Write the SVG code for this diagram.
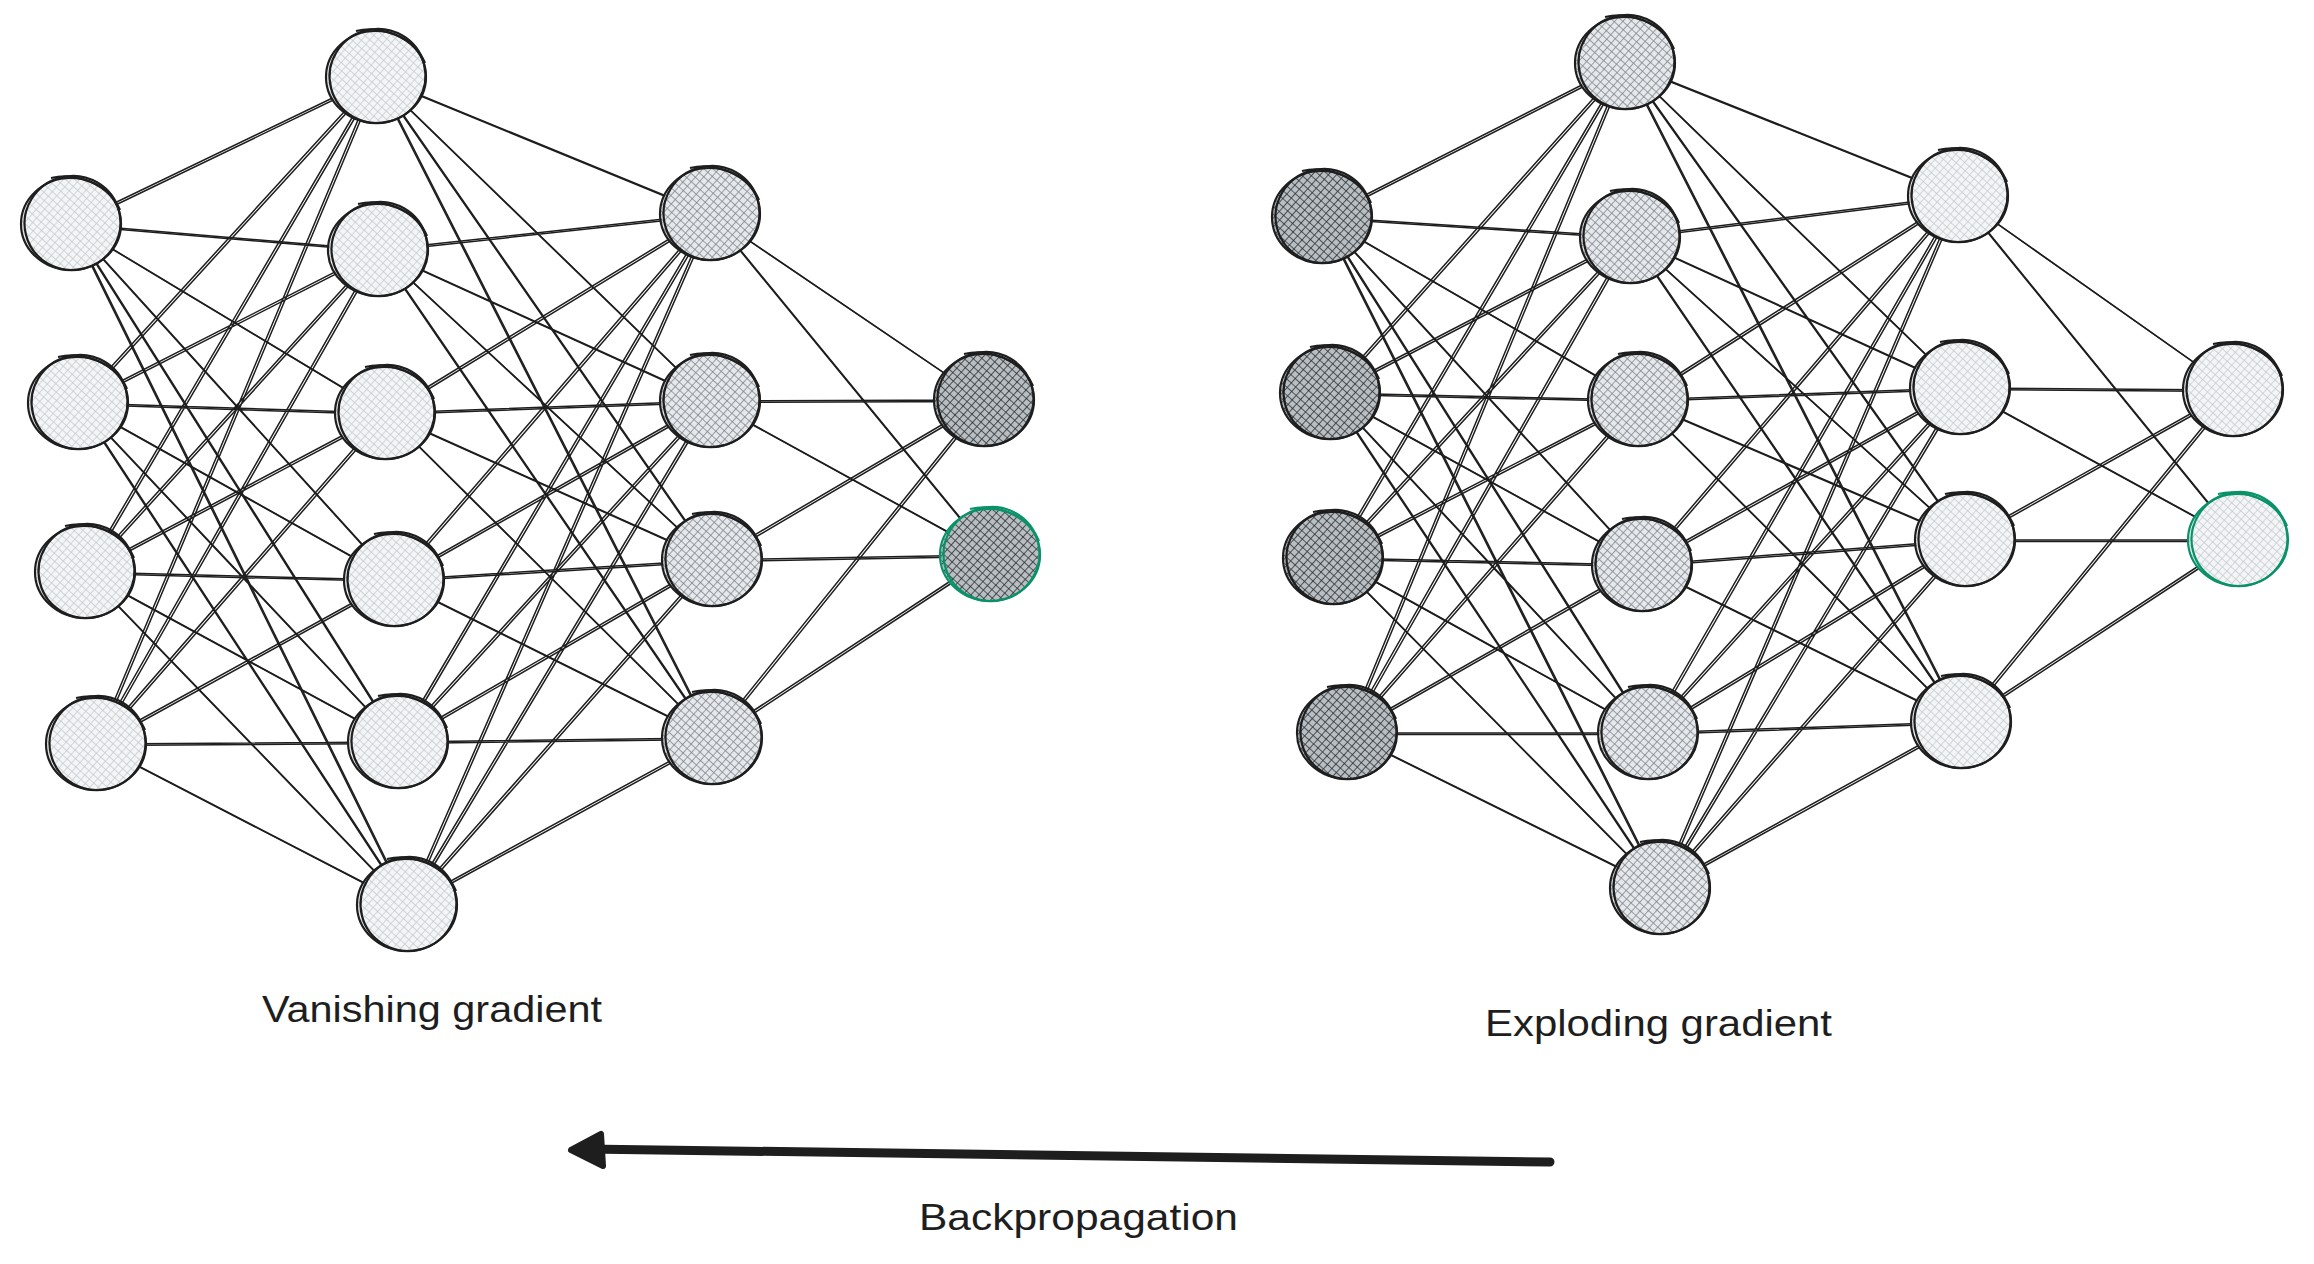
<svg xmlns="http://www.w3.org/2000/svg" xmlns:xlink="http://www.w3.org/1999/xlink" width="2314" height="1264" viewBox="0 0 2314 1264">
<style>
.edge{fill:none;stroke:#1e1e1e;stroke-width:1.5;stroke-linecap:round}
.ol{fill:none;stroke:#1e1e1e;stroke-width:2.2}
.olg{fill:none;stroke:#099268;stroke-width:2.2}
.lbl{font-family:"Liberation Sans","DejaVu Sans",sans-serif;font-size:36px;fill:#1e1e1e}
</style>
<defs>
<pattern id="hLight" width="6" height="6" patternUnits="userSpaceOnUse" patternTransform="rotate(42)">
<rect width="6" height="6" fill="#f4f5f6"/>
<path d="M0 0H6M0 0V6" stroke="#c3c9cf" stroke-width="1.4"/>
</pattern>
<pattern id="hMed" width="6" height="6" patternUnits="userSpaceOnUse" patternTransform="rotate(42)">
<rect width="6" height="6" fill="#e6e8eb"/>
<path d="M0 0H6M0 0V6" stroke="#7c848c" stroke-width="1.5"/>
</pattern>
<pattern id="hDark" width="6" height="6" patternUnits="userSpaceOnUse" patternTransform="rotate(42)">
<rect width="6" height="6" fill="#b9bec3"/>
<path d="M0 0H6M0 0V6" stroke="#2b3035" stroke-width="1.6"/>
</pattern>
<g id="ring">
<ellipse rx="50" ry="46"/>
<ellipse rx="48" ry="47" transform="translate(1.5 -1) rotate(-14)"/>
<path d="M-20 -46C5 -52 38 -40 49 -14"/>
</g>
<ellipse id="blob" rx="49" ry="46"/>
</defs>
<rect width="2314" height="1264" fill="#ffffff"/>

<g id="connectors">
<g id="edgeSet" class="edge">
<path id="left-L1-L2" d="M71 224L376 77M71 224L378 250M71 224L385 413M71 224L394 580M71 224L398 742M71 224L407 905M78 403L376 77M78 403L378 250M78 403L385 413M78 403L394 580M78 403L398 742M78 403L407 905M85 572L376 77M85 572L378 250M85 572L385 413M85 572L394 580M85 572L398 742M85 572L407 905M96 744L376 77M96 744L378 250M96 744L385 413M96 744L394 580M96 744L398 742M96 744L407 905"/>
<path id="left-L2-L3" d="M376 77L710 214M376 77L710 401M376 77L712 560M376 77L712 738M378 250L710 214M378 250L710 401M378 250L712 560M378 250L712 738M385 413L710 214M385 413L710 401M385 413L712 560M385 413L712 738M394 580L710 214M394 580L710 401M394 580L712 560M394 580L712 738M398 742L710 214M398 742L710 401M398 742L712 560M398 742L712 738M407 905L710 214M407 905L710 401M407 905L712 560M407 905L712 738"/>
<path id="left-L3-L4" d="M710 214L984 400M710 214L990 555M710 401L984 400M710 401L990 555M712 560L984 400M712 560L990 555M712 738L984 400M712 738L990 555"/>
<path id="right-L1-L2" d="M1322 217L1625 63M1322 217L1630 237M1322 217L1638 400M1322 217L1642 565M1322 217L1648 733M1322 217L1660 888M1330 393L1625 63M1330 393L1630 237M1330 393L1638 400M1330 393L1642 565M1330 393L1648 733M1330 393L1660 888M1333 558L1625 63M1333 558L1630 237M1333 558L1638 400M1333 558L1642 565M1333 558L1648 733M1333 558L1660 888M1347 733L1625 63M1347 733L1630 237M1347 733L1638 400M1347 733L1642 565M1347 733L1648 733M1347 733L1660 888"/>
<path id="right-L2-L3" d="M1625 63L1958 196M1625 63L1960 388M1625 63L1965 540M1625 63L1961 722M1630 237L1958 196M1630 237L1960 388M1630 237L1965 540M1630 237L1961 722M1638 400L1958 196M1638 400L1960 388M1638 400L1965 540M1638 400L1961 722M1642 565L1958 196M1642 565L1960 388M1642 565L1965 540M1642 565L1961 722M1648 733L1958 196M1648 733L1960 388M1648 733L1965 540M1648 733L1961 722M1660 888L1958 196M1660 888L1960 388M1660 888L1965 540M1660 888L1961 722"/>
<path id="right-L3-L4" d="M1958 196L2233 390M1958 196L2238 540M1960 388L2233 390M1960 388L2238 540M1965 540L2233 390M1965 540L2238 540M1961 722L2233 390M1961 722L2238 540"/>
</g>
<use xlink:href="#edgeSet" href="#edgeSet" transform="translate(2 1.5)"/>
<g id="backprop-arrow">
<path d="M1550 1162L586 1149" fill="none" stroke="#1e1e1e" stroke-width="9" stroke-linecap="round"/>
<path d="M571 1150L601 1134L603 1166Z" fill="#1e1e1e" stroke="#1e1e1e" stroke-width="6" stroke-linejoin="round"/>
</g>
</g>

<g id="left-network">
<g id="left-in-1" transform="translate(71 224)"><use href="#blob" fill="url(#hLight)"/><use href="#ring" class="ol"/></g>
<g id="left-in-2" transform="translate(78 403)"><use href="#blob" fill="url(#hLight)"/><use href="#ring" class="ol"/></g>
<g id="left-in-3" transform="translate(85 572)"><use href="#blob" fill="url(#hLight)"/><use href="#ring" class="ol"/></g>
<g id="left-in-4" transform="translate(96 744)"><use href="#blob" fill="url(#hLight)"/><use href="#ring" class="ol"/></g>
<g id="left-h1-1" transform="translate(376 77)"><use href="#blob" fill="url(#hLight)"/><use href="#ring" class="ol"/></g>
<g id="left-h1-2" transform="translate(378 250)"><use href="#blob" fill="url(#hLight)"/><use href="#ring" class="ol"/></g>
<g id="left-h1-3" transform="translate(385 413)"><use href="#blob" fill="url(#hLight)"/><use href="#ring" class="ol"/></g>
<g id="left-h1-4" transform="translate(394 580)"><use href="#blob" fill="url(#hLight)"/><use href="#ring" class="ol"/></g>
<g id="left-h1-5" transform="translate(398 742)"><use href="#blob" fill="url(#hLight)"/><use href="#ring" class="ol"/></g>
<g id="left-h1-6" transform="translate(407 905)"><use href="#blob" fill="url(#hLight)"/><use href="#ring" class="ol"/></g>
<g id="left-h2-1" transform="translate(710 214)"><use href="#blob" fill="url(#hMed)"/><use href="#ring" class="ol"/></g>
<g id="left-h2-2" transform="translate(710 401)"><use href="#blob" fill="url(#hMed)"/><use href="#ring" class="ol"/></g>
<g id="left-h2-3" transform="translate(712 560)"><use href="#blob" fill="url(#hMed)"/><use href="#ring" class="ol"/></g>
<g id="left-h2-4" transform="translate(712 738)"><use href="#blob" fill="url(#hMed)"/><use href="#ring" class="ol"/></g>
<g id="left-out-1" transform="translate(984 400)"><use href="#blob" fill="url(#hDark)"/><use href="#ring" class="ol"/></g>
<g id="left-out-2" transform="translate(990 555)"><use href="#blob" fill="url(#hDark)"/><use href="#ring" class="olg"/></g>
</g>

<g id="right-network">
<g id="right-in-1" transform="translate(1322 217)"><use href="#blob" fill="url(#hDark)"/><use href="#ring" class="ol"/></g>
<g id="right-in-2" transform="translate(1330 393)"><use href="#blob" fill="url(#hDark)"/><use href="#ring" class="ol"/></g>
<g id="right-in-3" transform="translate(1333 558)"><use href="#blob" fill="url(#hDark)"/><use href="#ring" class="ol"/></g>
<g id="right-in-4" transform="translate(1347 733)"><use href="#blob" fill="url(#hDark)"/><use href="#ring" class="ol"/></g>
<g id="right-h1-1" transform="translate(1625 63)"><use href="#blob" fill="url(#hMed)"/><use href="#ring" class="ol"/></g>
<g id="right-h1-2" transform="translate(1630 237)"><use href="#blob" fill="url(#hMed)"/><use href="#ring" class="ol"/></g>
<g id="right-h1-3" transform="translate(1638 400)"><use href="#blob" fill="url(#hMed)"/><use href="#ring" class="ol"/></g>
<g id="right-h1-4" transform="translate(1642 565)"><use href="#blob" fill="url(#hMed)"/><use href="#ring" class="ol"/></g>
<g id="right-h1-5" transform="translate(1648 733)"><use href="#blob" fill="url(#hMed)"/><use href="#ring" class="ol"/></g>
<g id="right-h1-6" transform="translate(1660 888)"><use href="#blob" fill="url(#hMed)"/><use href="#ring" class="ol"/></g>
<g id="right-h2-1" transform="translate(1958 196)"><use href="#blob" fill="url(#hLight)"/><use href="#ring" class="ol"/></g>
<g id="right-h2-2" transform="translate(1960 388)"><use href="#blob" fill="url(#hLight)"/><use href="#ring" class="ol"/></g>
<g id="right-h2-3" transform="translate(1965 540)"><use href="#blob" fill="url(#hLight)"/><use href="#ring" class="ol"/></g>
<g id="right-h2-4" transform="translate(1961 722)"><use href="#blob" fill="url(#hLight)"/><use href="#ring" class="ol"/></g>
<g id="right-out-1" transform="translate(2233 390)"><use href="#blob" fill="url(#hLight)"/><use href="#ring" class="ol"/></g>
<g id="right-out-2" transform="translate(2238 540)"><use href="#blob" fill="url(#hLight)"/><use href="#ring" class="olg"/></g>
</g>

<g id="labels">
<text id="label-vanishing" class="lbl" x="262" y="1022" textLength="340" lengthAdjust="spacingAndGlyphs">Vanishing gradient</text>
<text id="label-exploding" class="lbl" x="1485" y="1036" textLength="347" lengthAdjust="spacingAndGlyphs">Exploding gradient</text>
<text id="label-backprop" class="lbl" x="919" y="1230" textLength="319" lengthAdjust="spacingAndGlyphs">Backpropagation</text>
</g>
</svg>
